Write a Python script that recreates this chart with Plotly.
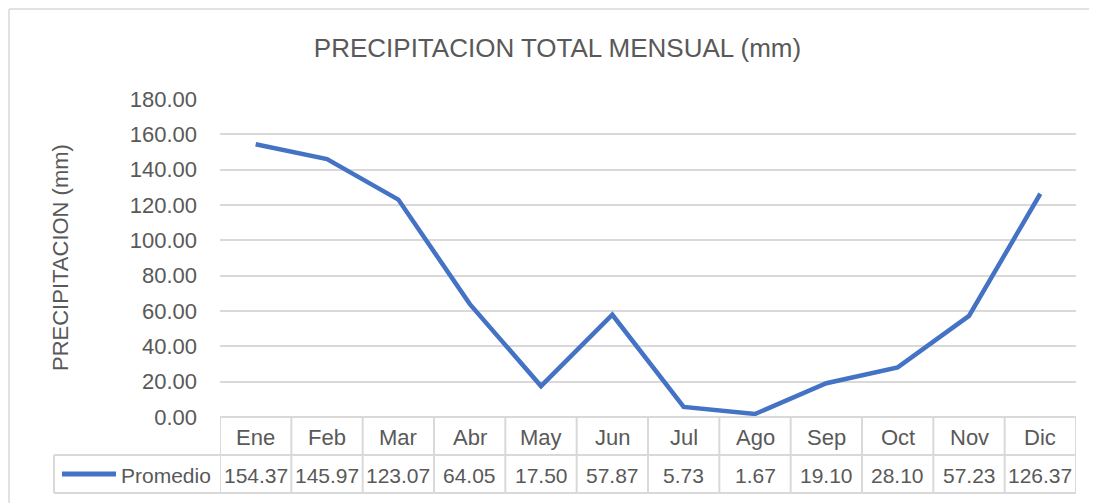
import plotly.graph_objects as go

months = ["Ene", "Feb", "Mar", "Abr", "May", "Jun", "Jul", "Ago", "Sep", "Oct", "Nov", "Dic"]
promedio = [154.37, 145.97, 123.07, 64.05, 17.50, 57.87, 5.73, 1.67, 19.10, 28.10, 57.23, 126.37]
series_name = "Promedio"
y_ticks = [0, 20, 40, 60, 80, 100, 120, 140, 160, 180]

FONT = "Liberation Sans, Arial, sans-serif"
TXT = "#595959"
GRID = "#d9d9d9"
BLUE = "#4472C4"

W, H = 1089, 495   # page has an 8px body margin
L, T, R, B = 212, 91, 21, 86
PW = W - L - R

fig = go.Figure()
fig.add_trace(go.Scatter(x=list(range(len(months))), y=promedio, mode="lines",
                         line=dict(color=BLUE, width=4.5), name=series_name,
                         showlegend=False, hoverinfo="skip"))

fig.update_layout(
    width=W, height=H,
    margin=dict(l=L, r=R, t=T, b=B),
    paper_bgcolor="white", plot_bgcolor="white",
    font=dict(family=FONT, color=TXT, size=22),
    title=dict(text="PRECIPITACION TOTAL MENSUAL (mm)", x=549.5 / W, xanchor="center",
               y=1 - 40 / H, yanchor="middle", yref="container", xref="container",
               font=dict(family=FONT, size=26, color=TXT)),
)
fig.update_yaxes(range=[0, 180], tickvals=y_ticks, ticktext=[f"{v:.2f}" for v in y_ticks],
                 showgrid=True, gridcolor=GRID, gridwidth=1.5, zeroline=False,
                 showline=False, ticks="", ticklabelstandoff=22,
                 tickfont=dict(size=22, color=TXT))
fig.update_xaxes(range=[-0.5, len(months) - 0.5], showticklabels=False, showgrid=False,
                 zeroline=False, showline=False, ticks="")

shapes = []
line = dict(color=GRID, width=2)
shapes.append(dict(type="line", xref="paper", yref="paper", x0=0, x1=1, y0=0, y1=0, line=line))
for off in (-38, -76):
    shapes.append(dict(type="line", xref="paper", yref="paper", xsizemode="pixel", xanchor=1,
                       x0=-PW - 166, x1=0, ysizemode="pixel", yanchor=0, y0=off, y1=off, line=line))
for i in range(len(months) + 1):
    shapes.append(dict(type="line", xref="x", yref="paper", x0=i - 0.5, x1=i - 0.5,
                       ysizemode="pixel", yanchor=0, y0=0, y1=-76, line=line))
shapes.append(dict(type="line", xref="paper", yref="paper", xsizemode="pixel", xanchor=0,
                   x0=-166, x1=-166, ysizemode="pixel", yanchor=0, y0=-38, y1=-76, line=line))
shapes.append(dict(type="line", xref="paper", yref="paper", xsizemode="pixel", xanchor=0,
                   x0=-158, x1=-104, ysizemode="pixel", yanchor=0, y0=-57, y1=-57,
                   line=dict(color=BLUE, width=5)))
# outer chart border (right and bottom edges fall outside the picture)
shapes.append(dict(type="line", xref="paper", yref="paper", xsizemode="pixel", ysizemode="pixel",
                   xanchor=0, yanchor=1, x0=-211, x1=1000, y0=90, y1=90,
                   line=dict(color=GRID, width=1.5), layer="below"))
shapes.append(dict(type="line", xref="paper", yref="paper", xsizemode="pixel", ysizemode="pixel",
                   xanchor=0, yanchor=1, x0=-211, x1=-211, y0=90, y1=-600,
                   line=dict(color=GRID, width=1.5), layer="below"))
fig.update_layout(shapes=shapes)

ann = []
for i, m in enumerate(months):
    ann.append(dict(x=i, y=0, xref="x", yref="paper", yshift=-20, text=m, showarrow=False,
                    font=dict(size=22, color=TXT), xanchor="center", yanchor="middle"))
    ann.append(dict(x=i, y=0, xref="x", yref="paper", yshift=-58, text=f"{promedio[i]:.2f}",
                    showarrow=False, font=dict(size=21, color=TXT), xanchor="center", yanchor="middle"))
ann.append(dict(x=0, y=0, xref="paper", yref="paper", xshift=-7, yshift=-58, text=series_name,
                showarrow=False, font=dict(size=21, color=TXT), xanchor="right", yanchor="middle"))
ann.append(dict(x=0, y=0.5, xref="paper", yref="paper", xshift=-160, text="PRECIPITACION (mm)",
                textangle=-90, showarrow=False, font=dict(size=22, color=TXT),
                xanchor="center", yanchor="middle"))
fig.update_layout(annotations=ann)

fig.write_html("out.html")
